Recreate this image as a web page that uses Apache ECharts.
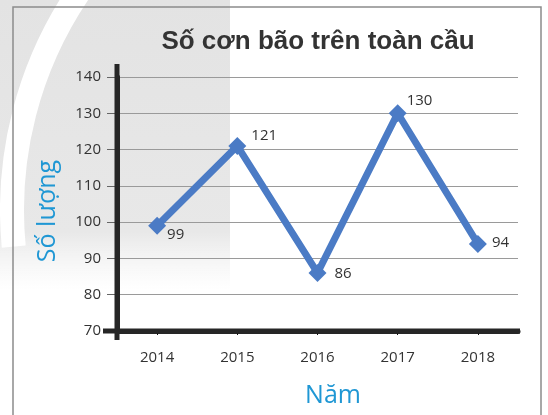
<!DOCTYPE html>
<html>
<head>
<meta charset="utf-8">
<script src="https://cdn.jsdelivr.net/npm/echarts@6/dist/echarts.min.js"></script>
<style>
  html, body { margin: 0; padding: 0; background: #ffffff; }
  #chart { width: 548px; height: 415px; }
</style>
</head>
<body>
<div id="chart"></div>
<script>
// Global storm counts per year
const years = ['2014', '2015', '2016', '2017', '2018'];
const stormCounts = [99, 121, 86, 130, 94];
const yTicks = [70, 80, 90, 100, 110, 120, 130, 140];

const titleText = 'Số cơn bão trên toàn cầu';
const yName = 'Số lượng';
const xName = 'Năm';

// Per-point label nudges so each number sits beside its marker
const labelNudges = [[-5, 9], [-1, -10], [2, 1], [-6, -13], [-1, -1]];

const lineBlue = '#4b7bc5';
const nameBlue = '#1f97d4';
const axisDark = '#262626';

const chart = echarts.init(document.getElementById('chart'), null, { renderer: 'canvas' });

const option = {
  animation: false,
  backgroundColor: 'transparent',
  title: {
    text: titleText,
    left: 313,
    top: 24,
    textAlign: 'center',
    textStyle: {
      fontFamily: 'Liberation Sans',
      fontWeight: 'bold',
      fontSize: 26,
      color: '#333333'
    }
  },
  grid: { left: 117, right: 30, top: 77, bottom: 84 },
  xAxis: {
    type: 'category',
    data: years,
    boundaryGap: true,
    name: xName,
    nameLocation: 'middle',
    nameGap: 52,
    nameTextStyle: {
      fontFamily: 'Open Sans',
      fontSize: 25,
      color: nameBlue,
      padding: [0, 0, 0, 31]
    },
    axisLine: { show: true, lineStyle: { color: axisDark, width: 5 } },
    axisTick: { show: true, alignWithLabel: true, length: 4, lineStyle: { color: '#111', width: 1 } },
    axisLabel: { margin: 19, fontFamily: 'Open Sans', fontSize: 15, color: '#333333' },
    splitLine: { show: false }
  },
  yAxis: {
    type: 'value',
    min: yTicks[0],
    max: yTicks[yTicks.length - 1],
    interval: yTicks[1] - yTicks[0],
    name: yName,
    nameLocation: 'middle',
    nameRotate: 90,
    nameGap: 57,
    nameTextStyle: {
      fontFamily: 'Open Sans',
      fontSize: 25,
      color: nameBlue,
      padding: [0, 14, 0, 0]
    },
    axisLine: { show: true, lineStyle: { color: axisDark, width: 5 } },
    axisTick: { show: true, length: 10, lineStyle: { color: '#666', width: 1 } },
    axisLabel: { margin: 16, fontFamily: 'Open Sans', fontSize: 15, color: '#333333' },
    splitLine: { show: true, lineStyle: { color: '#9a9a9a', width: 1 } }
  },
  series: [{
    type: 'line',
    data: stormCounts.map((v, i) => ({
      value: v,
      label: { offset: labelNudges[i] }
    })),
    symbol: 'diamond',
    symbolSize: 18,
    lineStyle: { color: lineBlue, width: 7 },
    itemStyle: { color: lineBlue },
    label: {
      show: true,
      position: 'right',
      distance: 6,
      fontFamily: 'Open Sans',
      fontSize: 15,
      color: '#333333'
    },
    z: 5
  }]
};

chart.setOption(option);

// Backdrop, frame, and the axis lines that run a little past the plot area
const rect = chart.getModel().getComponent('grid').coordinateSystem.getRect();
const bottom = rect.y + rect.height;

chart.setOption({
  graphic: [
    {
      type: 'rect',
      z: -20,
      silent: true,
      shape: { x: 0, y: 0, width: 230, height: 290 },
      style: {
        fill: new echarts.graphic.LinearGradient(0, 0, 0, 1, [
          { offset: 0, color: '#e3e3e3' },
          { offset: 0.8, color: '#e8e8e8' },
          { offset: 1, color: 'rgba(240,240,240,0)' }
        ])
      }
    },
    {
      type: 'arc',
      z: -19,
      silent: true,
      shape: { cx: 400, cy: 210, r: 388, startAngle: Math.PI * 0.97, endAngle: Math.PI * 1.19, clockwise: true },
      style: { stroke: '#ffffff', lineWidth: 24, fill: null }
    },
    {
      type: 'rect',
      z: -18,
      silent: true,
      shape: { x: 13, y: 7, width: 528, height: 430 },
      style: { fill: null, stroke: '#8c8c8c', lineWidth: 1.5 }
    },
    {
      type: 'line',
      z: 3,
      silent: true,
      shape: { x1: rect.x, y1: rect.y - 13, x2: rect.x, y2: bottom + 9 },
      style: { stroke: axisDark, lineWidth: 5 }
    },
    {
      type: 'line',
      z: 3,
      silent: true,
      shape: { x1: rect.x - 14, y1: bottom, x2: rect.x + rect.width + 2, y2: bottom },
      style: { stroke: axisDark, lineWidth: 5 }
    }
  ]
});
</script>
</body>
</html>
